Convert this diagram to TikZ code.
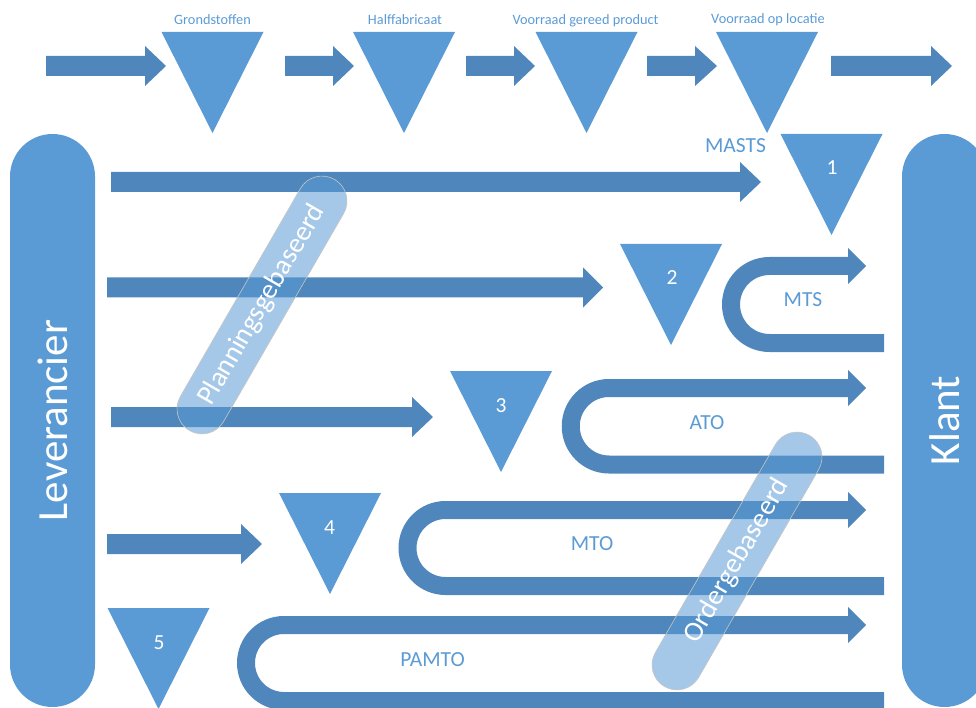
\documentclass[tikz,border=0pt]{standalone}
\usepackage{fontspec}
\setmainfont{Carlito}
\definecolor{arr}{RGB}{79,135,188}
\definecolor{tri}{RGB}{91,155,213}
\tikzset{
  arrfill/.style={fill=arr},
  trifill/.style={fill=tri},
  band/.style={draw=arr, line width=18pt},
  toplabel/.style={text=tri, font=\fontsize{14.3}{16}\selectfont, inner sep=0pt, anchor=base},
  flowlabel/.style={text=tri, font=\fontsize{21.5}{24}\selectfont, inner sep=0pt, anchor=base},
  numlabel/.style={text=white, font=\fontsize{21.5}{24}\selectfont, inner sep=0pt, anchor=base},
  sidepill/.style={fill=tri, rounded corners=42.5pt, minimum width=573pt, minimum height=85pt, rotate=90, text=white, font=\fontsize{43}{50}\selectfont, inner sep=0pt},
  diagpill/.style={fill=tri, fill opacity=0.55, text opacity=1, draw=gray!45, line width=0.6pt, rounded corners=25pt, minimum width=290pt, minimum height=50pt, rotate=60, text=white, font=\fontsize{28}{32}\selectfont, inner sep=0pt},
}
% block arrow: x-start, x-head, x-tip, y-centre
\newcommand\BlockArrow[4]{%
  \fill[arrfill] (#1,#4-10) -- (#2,#4-10) -- (#2,#4-20) -- (#3,#4) -- (#2,#4+20) -- (#2,#4+10) -- (#1,#4+10) -- cycle;}
% downward triangle: x-centre, y-top
\newcommand\DownTri[2]{%
  \fill[trifill] (#1-51,#2) -- (#1+51,#2) -- (#1,#2+101) -- cycle;}
% U-turn arrow: arc centre x, top band y, bottom band y, radius
\newcommand\UTurn[4]{%
  \draw[band] (884,#3) -- (#1,#3) arc[start angle=270, end angle=90, radius=#4pt] -- (849,#2);
  \fill[arrfill] (848,#2-18) -- (866,#2) -- (848,#2+18) -- cycle;}
\begin{document}
\begin{tikzpicture}[x=1pt,y=-1pt]
\useasboundingbox (0,0) rectangle (976,708);
\clip (0,0) rectangle (976,708);
% top row
\BlockArrow{46}{145}{166}{66}
\BlockArrow{285}{333}{354}{66}
\BlockArrow{466}{514}{535}{66}
\BlockArrow{647}{695}{717}{66}
\BlockArrow{831}{931}{952}{66}
\DownTri{212.5}{32}
\DownTri{404}{32}
\DownTri{586.5}{32}
\DownTri{767}{32}
\node[toplabel] (lg) at (212.5,25) {Grondstoffen};
\node[toplabel] (lh) at (405,25) {Halffabricaat};
\node[toplabel] (lv) at (585.5,25) {Voorraad gereed product};
\node[toplabel] (ll) at (768,24) {Voorraad op locatie};
% side pills
\node[sidepill] (lev) at (52.5,420.5) {Leverancier};
\node[sidepill] (kl) at (944.5,420.5) {Klant};
% rows
\BlockArrow{111}{740}{761}{182}
\BlockArrow{107}{583}{603}{287.5}
\BlockArrow{111}{412}{433}{417}
\BlockArrow{107}{241}{262}{544}
\DownTri{831.5}{134}
\DownTri{671}{244}
\DownTri{501}{371}
\DownTri{330}{493}
\DownTri{158.5}{608}
\node[numlabel] (n1) at (832,175) {1};
\node[numlabel] (n2) at (672,285) {2};
\node[numlabel] (n3) at (501,412) {3};
\node[numlabel] (n4) at (329.5,534) {4};
\node[numlabel] (n5) at (159,649) {5};
\UTurn{769.5}{266}{343}{38.5}
\UTurn{609}{388}{464.5}{38.25}
\UTurn{445.5}{510}{586}{38}
\UTurn{284}{625}{701}{38}
\node[flowlabel] (masts) at (735.5,153) {MASTS};
\node[flowlabel] (mts) at (803,306.5) {MTS};
\node[flowlabel] (ato) at (707,429) {ATO};
\node[flowlabel] (mto) at (592,550.5) {MTO};
\node[flowlabel] (pamto) at (432.5,666) {PAMTO};
% diagonal pills
\node[diagpill] (plan) at (262,305) {Planningsgebaseerd};
\node[diagpill] (order) at (737,561) {Ordergebaseerd};
\end{tikzpicture}
\end{document}
